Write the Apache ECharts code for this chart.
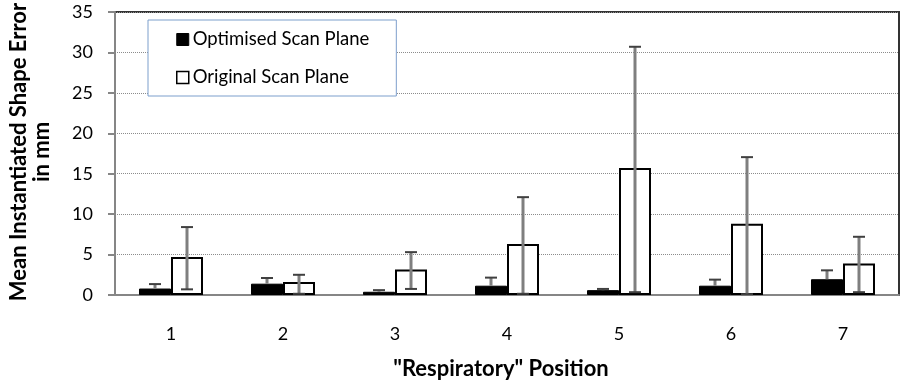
<!DOCTYPE html>
<html>
<head>
    <meta charset="UTF-8">
    <title>Mean Instantiated Shape Error</title>
    <script src="https://cdn.jsdelivr.net/npm/echarts@6/dist/echarts.min.js"></script>
    <style>
        html, body { margin: 0; padding: 0; background: #fff; }
        #chart { width: 903px; height: 385px; }
    </style>
</head>
<body>
<div id="chart"></div>
<script>
    // values
    var categories = ['1', '2', '3', '4', '5', '6', '7'];
    var optimised = [0.8, 1.4, 0.4, 1.15, 0.6, 1.15, 1.95];
    var optimisedHigh = [1.35, 2.1, 0.6, 2.15, 0.75, 1.9, 3.05];
    var original = [4.7, 1.6, 3.15, 6.3, 15.7, 8.8, 3.9];
    var originalLow = [0.7, 0.15, 0.75, 0.15, 0.35, 0.1, 0.35];
    var originalHigh = [8.4, 2.5, 5.3, 12.1, 30.7, 17.05, 7.2];
    var yTicks = [0, 5, 10, 15, 20, 25, 30, 35];

    var font = 'Lato, "Open Sans", sans-serif';
    var chart = echarts.init(document.getElementById('chart'), null, {renderer: 'canvas'});

    // error bars drawn as a custom series, shifted onto each bar of the pair
    function errorSeries(low, high, dx, showLow) {
        return {
            type: 'custom',
            z: 5,
            silent: true,
            data: categories.map(function (c, i) { return [i, low[i], high[i]]; }),
            renderItem: function (params, api) {
                var top = api.coord([api.value(0), api.value(2)]);
                var bot = api.coord([api.value(0), api.value(1)]);
                var x = top[0] + dx;
                var kids = [
                    {type: 'line', shape: {x1: x, y1: top[1], x2: x, y2: bot[1]},
                     style: {stroke: '#7f7f7f', lineWidth: 3}},
                    {type: 'line', shape: {x1: x - 6, y1: top[1], x2: x + 6, y2: top[1]},
                     style: {stroke: '#404040', lineWidth: 2}}
                ];
                if (showLow) {
                    kids.push({type: 'line', shape: {x1: x - 6, y1: bot[1], x2: x + 6, y2: bot[1]},
                        style: {stroke: '#404040', lineWidth: 2}});
                }
                return {type: 'group', children: kids};
            }
        };
    }

    chart.setOption({
        animation: false,
        textStyle: {fontFamily: font},
        grid: {left: 115, right: 4, top: 12, bottom: 90, show: true,
            borderColor: '#333', borderWidth: 2, backgroundColor: '#fff'},
        legend: {
            orient: 'vertical', left: 148, top: 20,
            backgroundColor: '#fff', borderColor: '#7d9fcc', borderWidth: 1, borderRadius: 0,
            padding: [10, 27, 9, 28], itemGap: 19,
            itemWidth: 12, itemHeight: 12, icon: 'rect',
            textStyle: {fontFamily: font, fontSize: 18.5, color: '#000', padding: [0, 0, 0, -1]},
            data: [
                {name: 'Optimised Scan Plane', itemStyle: {color: '#000', borderColor: '#000', borderWidth: 1}},
                {name: 'Original Scan Plane', itemStyle: {color: '#fff', borderColor: '#000', borderWidth: 1.5}}
            ]
        },
        xAxis: {
            type: 'category', data: categories,
            axisLine: {lineStyle: {color: '#868686', width: 2}},
            axisTick: {length: 8, lineStyle: {color: '#868686', width: 2}},
            axisLabel: {fontSize: 18, color: '#000', margin: 30}
        },
        yAxis: {
            type: 'value', min: 0, max: 35, interval: 5,
            axisLine: {show: true, lineStyle: {color: '#868686', width: 2}},
            axisTick: {show: true, length: 7, lineStyle: {color: '#868686', width: 2}},
            axisLabel: {fontSize: 18, color: '#000', margin: 22,
                formatter: function (v) { return yTicks.indexOf(v) >= 0 ? String(v) : ''; }},
            splitLine: {lineStyle: {color: '#8c8c8c', type: 'dotted', width: 1}}
        },
        graphic: [
            {type: 'text', x: 30, y: 152, rotation: Math.PI / 2,
             style: {text: 'Mean Instantiated Shape Error\nin mm', fontFamily: font, fontSize: 22,
                 fontWeight: 'bold', fill: '#000', align: 'center', verticalAlign: 'middle', lineHeight: 23}},
            {type: 'text', x: 501, y: 369,
             style: {text: '"Respiratory" Position', fontFamily: font, fontSize: 22,
                 fontWeight: 'bold', fill: '#000', align: 'center', verticalAlign: 'middle'}}
        ],
        series: [
            {name: 'Optimised Scan Plane', type: 'bar', data: optimised, barWidth: 32, barGap: '0%',
             itemStyle: {color: '#000', borderColor: '#000', borderWidth: 1}},
            {name: 'Original Scan Plane', type: 'bar', data: original, barWidth: 32,
             itemStyle: {color: '#fff', borderColor: '#000', borderWidth: 2}},
            errorSeries(optimised, optimisedHigh, -16, false),
            errorSeries(originalLow, originalHigh, 16, true)
        ]
    });
</script>
</body>
</html>
